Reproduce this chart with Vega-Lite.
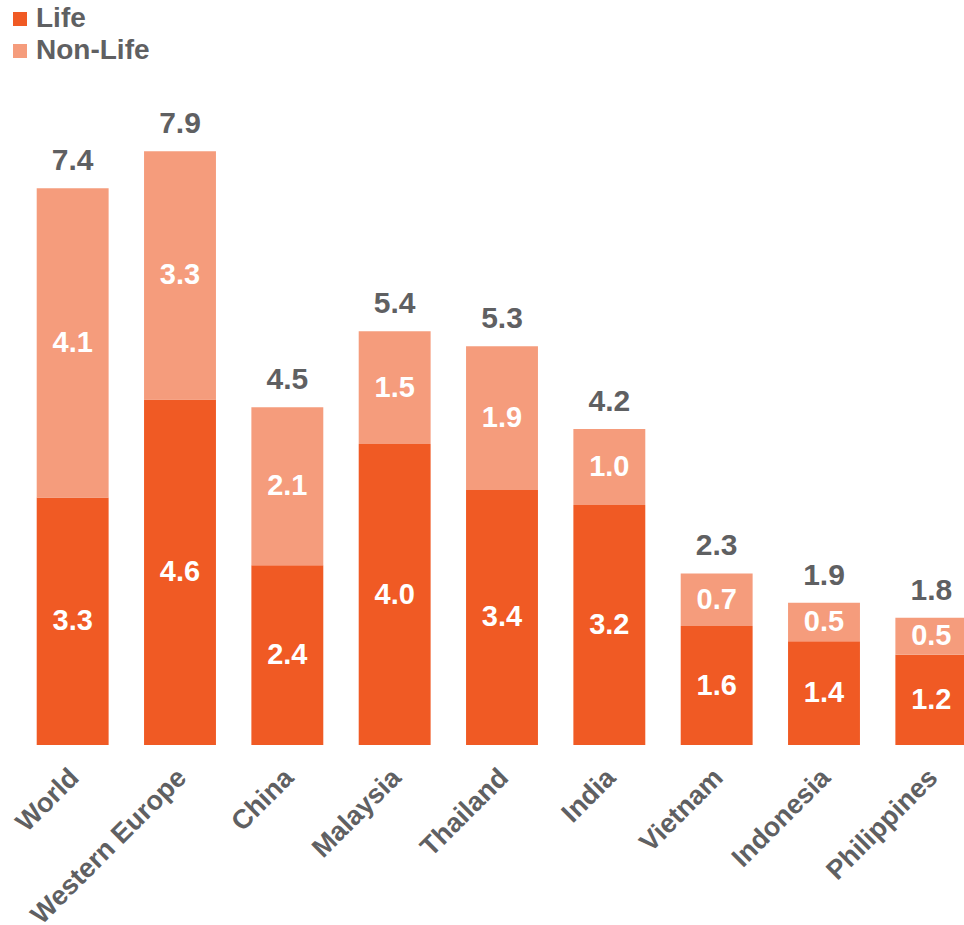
{
  "$schema": "https://vega.github.io/schema/vega-lite/v6.json",
  "autosize": "none",
  "padding": {"left": 19, "top": 143, "right": 0, "bottom": 180},
  "width": 945,
  "height": 602,
  "background": "white",
  "config": {
    "view": {"stroke": null},
    "font": "Liberation Sans"
  },
  "datasets": {
    "segments": [
      {"country": "World", "type": "Life", "value": 3.29, "label": "3.3"},
      {"country": "World", "type": "Non-Life", "value": 4.11, "label": "4.1"},
      {"country": "Western Europe", "type": "Life", "value": 4.59, "label": "4.6"},
      {"country": "Western Europe", "type": "Non-Life", "value": 3.3, "label": "3.3"},
      {"country": "China", "type": "Life", "value": 2.39, "label": "2.4"},
      {"country": "China", "type": "Non-Life", "value": 2.1, "label": "2.1"},
      {"country": "Malaysia", "type": "Life", "value": 4.0, "label": "4.0"},
      {"country": "Malaysia", "type": "Non-Life", "value": 1.5, "label": "1.5"},
      {"country": "Thailand", "type": "Life", "value": 3.39, "label": "3.4"},
      {"country": "Thailand", "type": "Non-Life", "value": 1.91, "label": "1.9"},
      {"country": "India", "type": "Life", "value": 3.19, "label": "3.2"},
      {"country": "India", "type": "Non-Life", "value": 1.01, "label": "1.0"},
      {"country": "Vietnam", "type": "Life", "value": 1.58, "label": "1.6"},
      {"country": "Vietnam", "type": "Non-Life", "value": 0.7, "label": "0.7"},
      {"country": "Indonesia", "type": "Life", "value": 1.38, "label": "1.4"},
      {"country": "Indonesia", "type": "Non-Life", "value": 0.51, "label": "0.5"},
      {"country": "Philippines", "type": "Life", "value": 1.2, "label": "1.2"},
      {"country": "Philippines", "type": "Non-Life", "value": 0.49, "label": "0.5"}
    ],
    "totals": [
      {"country": "World", "total": 7.4, "label": "7.4"},
      {"country": "Western Europe", "total": 7.89, "label": "7.9"},
      {"country": "China", "total": 4.49, "label": "4.5"},
      {"country": "Malaysia", "total": 5.5, "label": "5.4"},
      {"country": "Thailand", "total": 5.3, "label": "5.3"},
      {"country": "India", "total": 4.2, "label": "4.2"},
      {"country": "Vietnam", "total": 2.28, "label": "2.3"},
      {"country": "Indonesia", "total": 1.89, "label": "1.9"},
      {"country": "Philippines", "total": 1.69, "label": "1.8"}
    ]
  },
  "encoding": {
    "x": {
      "field": "country",
      "type": "nominal",
      "sort": ["World", "Western Europe", "China", "Malaysia", "Thailand", "India", "Vietnam", "Indonesia", "Philippines"],
      "scale": {"range": [0, 966], "paddingInner": 0.33, "paddingOuter": 0.165},
      "axis": {
        "title": null,
        "domain": false,
        "ticks": false,
        "labelAngle": -45,
        "labelAlign": "right",
        "labelBaseline": "top",
        "labelPadding": 19,
        "labelOffset": -7,
        "labelFont": "Liberation Sans",
        "labelFontWeight": "bold",
        "labelFontSize": 27,
        "labelColor": "#5F6062",
        "labelLimit": 400
      }
    }
  },
  "layer": [
    {
      "data": {"name": "segments"},
      "mark": {"type": "bar"},
      "encoding": {
        "y": {"field": "value", "type": "quantitative", "stack": "zero", "scale": {"domain": [0, 8], "nice": false}, "axis": null},
        "color": {
          "field": "type",
          "type": "nominal",
          "scale": {"domain": ["Life", "Non-Life"], "range": ["#F05A24", "#F59C7C"]},
          "legend": {
            "title": null,
            "orient": "none",
            "legendX": -13,
            "legendY": -138,
            "padding": 0,
            "symbolType": "square",
            "symbolSize": 196,
            "symbolStrokeWidth": 0,
            "labelFont": "Liberation Sans",
            "labelFontWeight": "bold",
            "labelFontSize": 28,
            "labelColor": "#5F6062",
            "labelOffset": 2,
            "rowPadding": 4
          }
        },
        "order": {"field": "type", "sort": "ascending"}
      }
    },
    {
      "data": {"name": "segments"},
      "mark": {"type": "text", "color": "white", "fontWeight": "bold", "fontSize": 29, "baseline": "middle", "font": "Liberation Sans"},
      "encoding": {
        "y": {"field": "value", "type": "quantitative", "stack": "zero", "bandPosition": 0.5},
        "detail": {"field": "type"},
        "order": {"field": "type", "sort": "ascending"},
        "text": {"field": "label"}
      }
    },
    {
      "data": {"name": "totals"},
      "mark": {"type": "text", "color": "#5F6062", "fontWeight": "bold", "fontSize": 30, "baseline": "alphabetic", "dy": -18, "font": "Liberation Sans"},
      "encoding": {
        "y": {"field": "total", "type": "quantitative"},
        "text": {"field": "label"}
      }
    }
  ]
}
